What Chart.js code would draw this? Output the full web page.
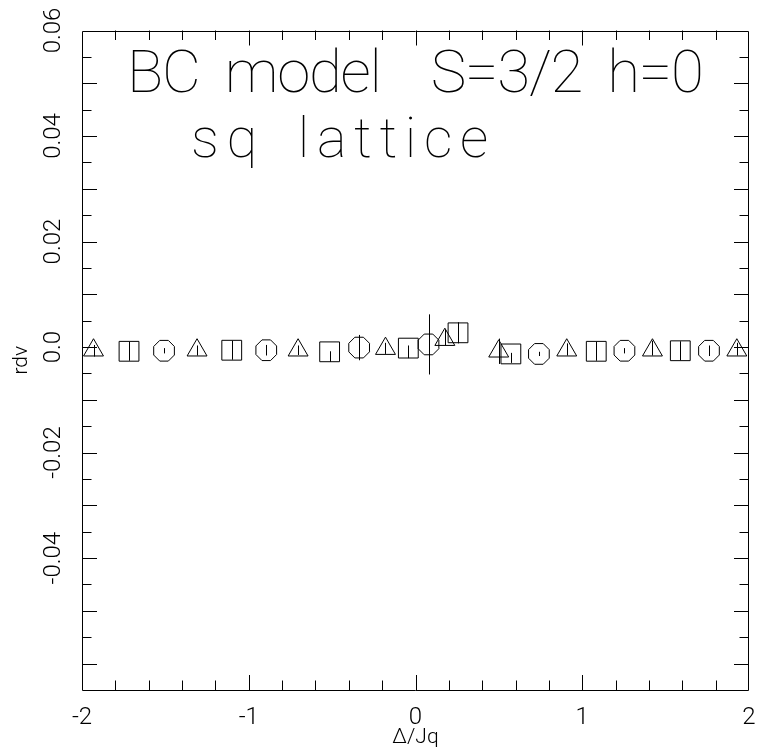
<!DOCTYPE html>
<html>
<head>
<meta charset="utf-8">
<script src="https://cdn.jsdelivr.net/npm/chart.js@4.4.1/dist/chart.umd.min.js"></script>
<style>
  html, body { margin: 0; padding: 0; background: #ffffff; }
  canvas { display: block; }
</style>
</head>
<body>
<canvas id="chart" width="764" height="749"></canvas>
<script>
// ---- data: relative deviation (rdv) versus Δ/Jq, three symbol series ----
const triX       = [-1.931, -1.310, -0.704, -0.180, 0.176, 0.499, 0.907, 1.421, 1.927];
const triY       = [-0.0006, -0.0006, -0.0006, -0.0003, 0.0014, -0.0008, -0.0006, -0.0006, -0.0006];
const triErrUp   = [0.0010, 0.0009, 0.0009, 0.0011, 0.0019, 0.0024, 0.0013, 0.0018, 0.0014];
const triErrDown = [0.0012, 0.0010, 0.0009, 0.0010, 0.0011, 0.0024, 0.0010, 0.0010, 0.0010];

const sqX        = [-1.718, -1.102, -0.515, -0.043, 0.255, 0.572, 1.084, 1.588];
const sqY        = [-0.0008, -0.0006, -0.0009, -0.0002, 0.0027, -0.0013, -0.0008, -0.0007];
const sqErrUp    = [0.0018, 0.0018, 0.0001, 0.0005, 0.0020, 0.0002, 0.0018, 0.0018];
const sqErrDown  = [0.0018, 0.0018, 0.0019, 0.0019, 0.0020, 0.0017, 0.0018, 0.0018];

const octX       = [-1.508, -0.895, -0.338, 0.078, 0.740, 1.253, 1.760];
const octY       = [-0.0007, -0.0006, -0.0001, 0.0005, -0.0013, -0.0007, -0.0007];
const octErrUp   = [0.0005, 0.0010, 0.0024, 0.0057, 0.0004, 0.0005, 0.0010];
const octErrDown = [0.0005, 0.0010, 0.0024, 0.0057, 0.0004, 0.0005, 0.0010];

// ---- axes ----
const xRange = [-2, 2];
const yRange = [-0.065, 0.06];
const xTickValues = [-2, -1, 0, 1, 2];
const xTickLabels = ['-2', '-1', '0', '1', '2'];
const yTickValues = [0.06, 0.04, 0.02, 0, -0.02, -0.04];
const yTickLabels = ['0.06', '0.04', '0.02', '0.0', '-0.02', '-0.04'];
const xMinorStep = 0.2, xMajorStep = 1;
const yMinorStep = 0.005, yMajorStep = 0.01;
const xTitle = 'Δ/Jq';
const yTitle = 'rdv';
const titleLines = ['BC model  S=3/2 h=0', 'sq lattice'];

const INK = '#000000';
const FONT = 'Roboto, Lato, "DejaVu Sans", sans-serif';

const points = (xs, ys) => xs.map((x, i) => ({ x: x, y: ys[i] }));

// white page behind the chart
const background = {
  id: 'background',
  beforeDraw(chart) {
    const c = chart.ctx;
    c.save();
    c.fillStyle = '#ffffff';
    c.fillRect(0, 0, chart.width, chart.height);
    c.restore();
  }
};

// boxed frame with inward ticks on all four sides
const frameTicks = {
  id: 'frameTicks',
  beforeDatasetsDraw(chart) {
    const { ctx: c, chartArea: a, scales: { x, y } } = chart;
    const majorLen = 15, minorLen = 9.5;
    c.save();
    c.strokeStyle = INK;
    c.lineWidth = 1;
    c.beginPath();
    c.rect(Math.round(a.left) + 0.5, Math.round(a.top) + 0.5,
           Math.round(a.right - a.left) - 1, Math.round(a.bottom - a.top) - 1);
    c.stroke();
    c.beginPath();
    const nx = Math.round((xRange[1] - xRange[0]) / xMinorStep);
    for (let k = 1; k < nx; k++) {
      const v = xRange[0] + k * xMinorStep;
      const isMajor = Math.abs(v / xMajorStep - Math.round(v / xMajorStep)) < 1e-6;
      const len = isMajor ? majorLen : minorLen;
      const px = Math.round(x.getPixelForValue(v)) + 0.5;
      c.moveTo(px, a.bottom); c.lineTo(px, a.bottom - len);
      c.moveTo(px, a.top);    c.lineTo(px, a.top + len);
    }
    const ny = Math.round((yRange[1] - yRange[0]) / yMinorStep);
    for (let k = 1; k < ny; k++) {
      const v = yRange[0] + k * yMinorStep;
      const isMajor = Math.abs(v / yMajorStep - Math.round(v / yMajorStep)) < 1e-6;
      const len = isMajor ? majorLen : minorLen;
      const py = Math.round(y.getPixelForValue(v)) + 0.5;
      c.moveTo(a.left, py);  c.lineTo(a.left + len, py);
      c.moveTo(a.right, py); c.lineTo(a.right - len, py);
    }
    c.stroke();
    c.restore();
  }
};

// vertical error bars for every series, plus the octagon symbols
const errorBars = {
  id: 'errorBars',
  afterDatasetsDraw(chart) {
    const { ctx: c, scales: { y } } = chart;
    c.save();
    c.strokeStyle = INK;
    c.lineWidth = 1;
    chart.data.datasets.forEach((ds, di) => {
      const meta = chart.getDatasetMeta(di);
      meta.data.forEach((pt, i) => {
        const v = ds.data[i].y;
        const px = Math.round(pt.x) + 0.5;
        c.beginPath();
        c.moveTo(px, y.getPixelForValue(v + ds.errUp[i]));
        c.lineTo(px, y.getPixelForValue(v - ds.errDown[i]));
        c.stroke();
        if (ds.octagon) {
          const R = ds.octagon;
          c.beginPath();
          for (let k = 0; k < 8; k++) {
            const ang = Math.PI / 8 + k * Math.PI / 4;
            const vx = pt.x + R * Math.cos(ang), vy = pt.y + R * Math.sin(ang);
            if (k === 0) c.moveTo(vx, vy); else c.lineTo(vx, vy);
          }
          c.closePath();
          c.stroke();
        }
      });
    });
    c.restore();
  }
};

// two-line caption inside the plot box
const caption = {
  id: 'caption',
  afterDraw(chart) {
    const { ctx: c, chartArea: a } = chart;
    const specs = [
      { text: titleLines[0], size: 60, left: a.left + 50, baseline: a.top + 61.5, width: 569 },
      { text: titleLines[1], size: 56, left: a.left + 111, baseline: a.top + 126, width: 294 }
    ];
    c.save();
    c.fillStyle = INK;
    c.textBaseline = 'alphabetic';
    c.textAlign = 'left';
    const wordGap = 12;
    specs.forEach(s => {
      c.font = '100 ' + s.size + 'px ' + FONT;
      c.letterSpacing = '0px';
      c.wordSpacing = '0px';
      const m = c.measureText(s.text);
      const ink = m.actualBoundingBoxLeft + m.actualBoundingBoxRight;
      const spaces = s.text.split(' ').length - 1;
      const ls = (s.width - ink - wordGap * spaces) / (s.text.length - 1);
      c.letterSpacing = ls.toFixed(2) + 'px';
      c.wordSpacing = wordGap + 'px';
      c.fillText(s.text, s.left + m.actualBoundingBoxLeft, s.baseline);
    });
    c.restore();
  }
};

new Chart(document.getElementById('chart'), {
  type: 'scatter',
  data: {
    datasets: [
      { label: 'triangles', data: points(triX, triY), errUp: triErrUp, errDown: triErrDown,
        pointStyle: 'triangle', pointRadius: 11.5, borderColor: INK, borderWidth: 1,
        backgroundColor: 'rgba(0,0,0,0)' },
      { label: 'squares', data: points(sqX, sqY), errUp: sqErrUp, errDown: sqErrDown,
        pointStyle: 'rect', pointRadius: 14, borderColor: INK, borderWidth: 1,
        backgroundColor: 'rgba(0,0,0,0)' },
      { label: 'octagons', data: points(octX, octY), errUp: octErrUp, errDown: octErrDown,
        octagon: 11.2, pointRadius: 0, borderColor: INK, backgroundColor: 'rgba(0,0,0,0)' }
    ]
  },
  options: {
    responsive: false,
    animation: false,
    events: [],
    layout: { padding: { top: 30.5, right: 5, left: 0, bottom: 0 } },
    plugins: { legend: { display: false }, tooltip: { enabled: false } },
    scales: {
      x: {
        type: 'linear', position: 'bottom', min: xRange[0], max: xRange[1],
        grid: { display: false, drawTicks: false },
        border: { display: false },
        afterBuildTicks: s => { s.ticks = xTickValues.map(v => ({ value: v })); },
        ticks: {
          autoSkip: false, minRotation: 0, maxRotation: 0, padding: 13.6, color: INK,
          font: { family: FONT, size: 24, weight: 300 },
          callback: (v, i) => xTickLabels[i]
        },
        title: { display: true, text: xTitle, color: INK,
                 font: { family: FONT, size: 21, weight: 300, lineHeight: 1 },
                 padding: { top: 0, bottom: 0.5 } },
        afterFit: s => { s.height = 59; s.paddingLeft = 0; s.paddingRight = 0; }
      },
      y: {
        type: 'linear', position: 'left', min: yRange[0], max: yRange[1],
        grid: { display: false, drawTicks: false },
        border: { display: false },
        afterBuildTicks: s => { s.ticks = yTickValues.map(v => ({ value: v })); },
        ticks: {
          autoSkip: false, minRotation: 90, maxRotation: 90, crossAlign: 'center', padding: 2,
          color: INK, font: { family: FONT, size: 24, weight: 300 },
          callback: (v, i) => yTickLabels[i]
        },
        title: { display: true, text: yTitle, color: INK,
                 font: { family: FONT, size: 21, weight: 300, lineHeight: 1 },
                 padding: { top: 11.5, bottom: 0 } },
        afterFit: s => { s.width = 82; s.paddingTop = 0; s.paddingBottom = 0; }
      }
    }
  },
  plugins: [background, frameTicks, errorBars, caption]
});
</script>
</body>
</html>
